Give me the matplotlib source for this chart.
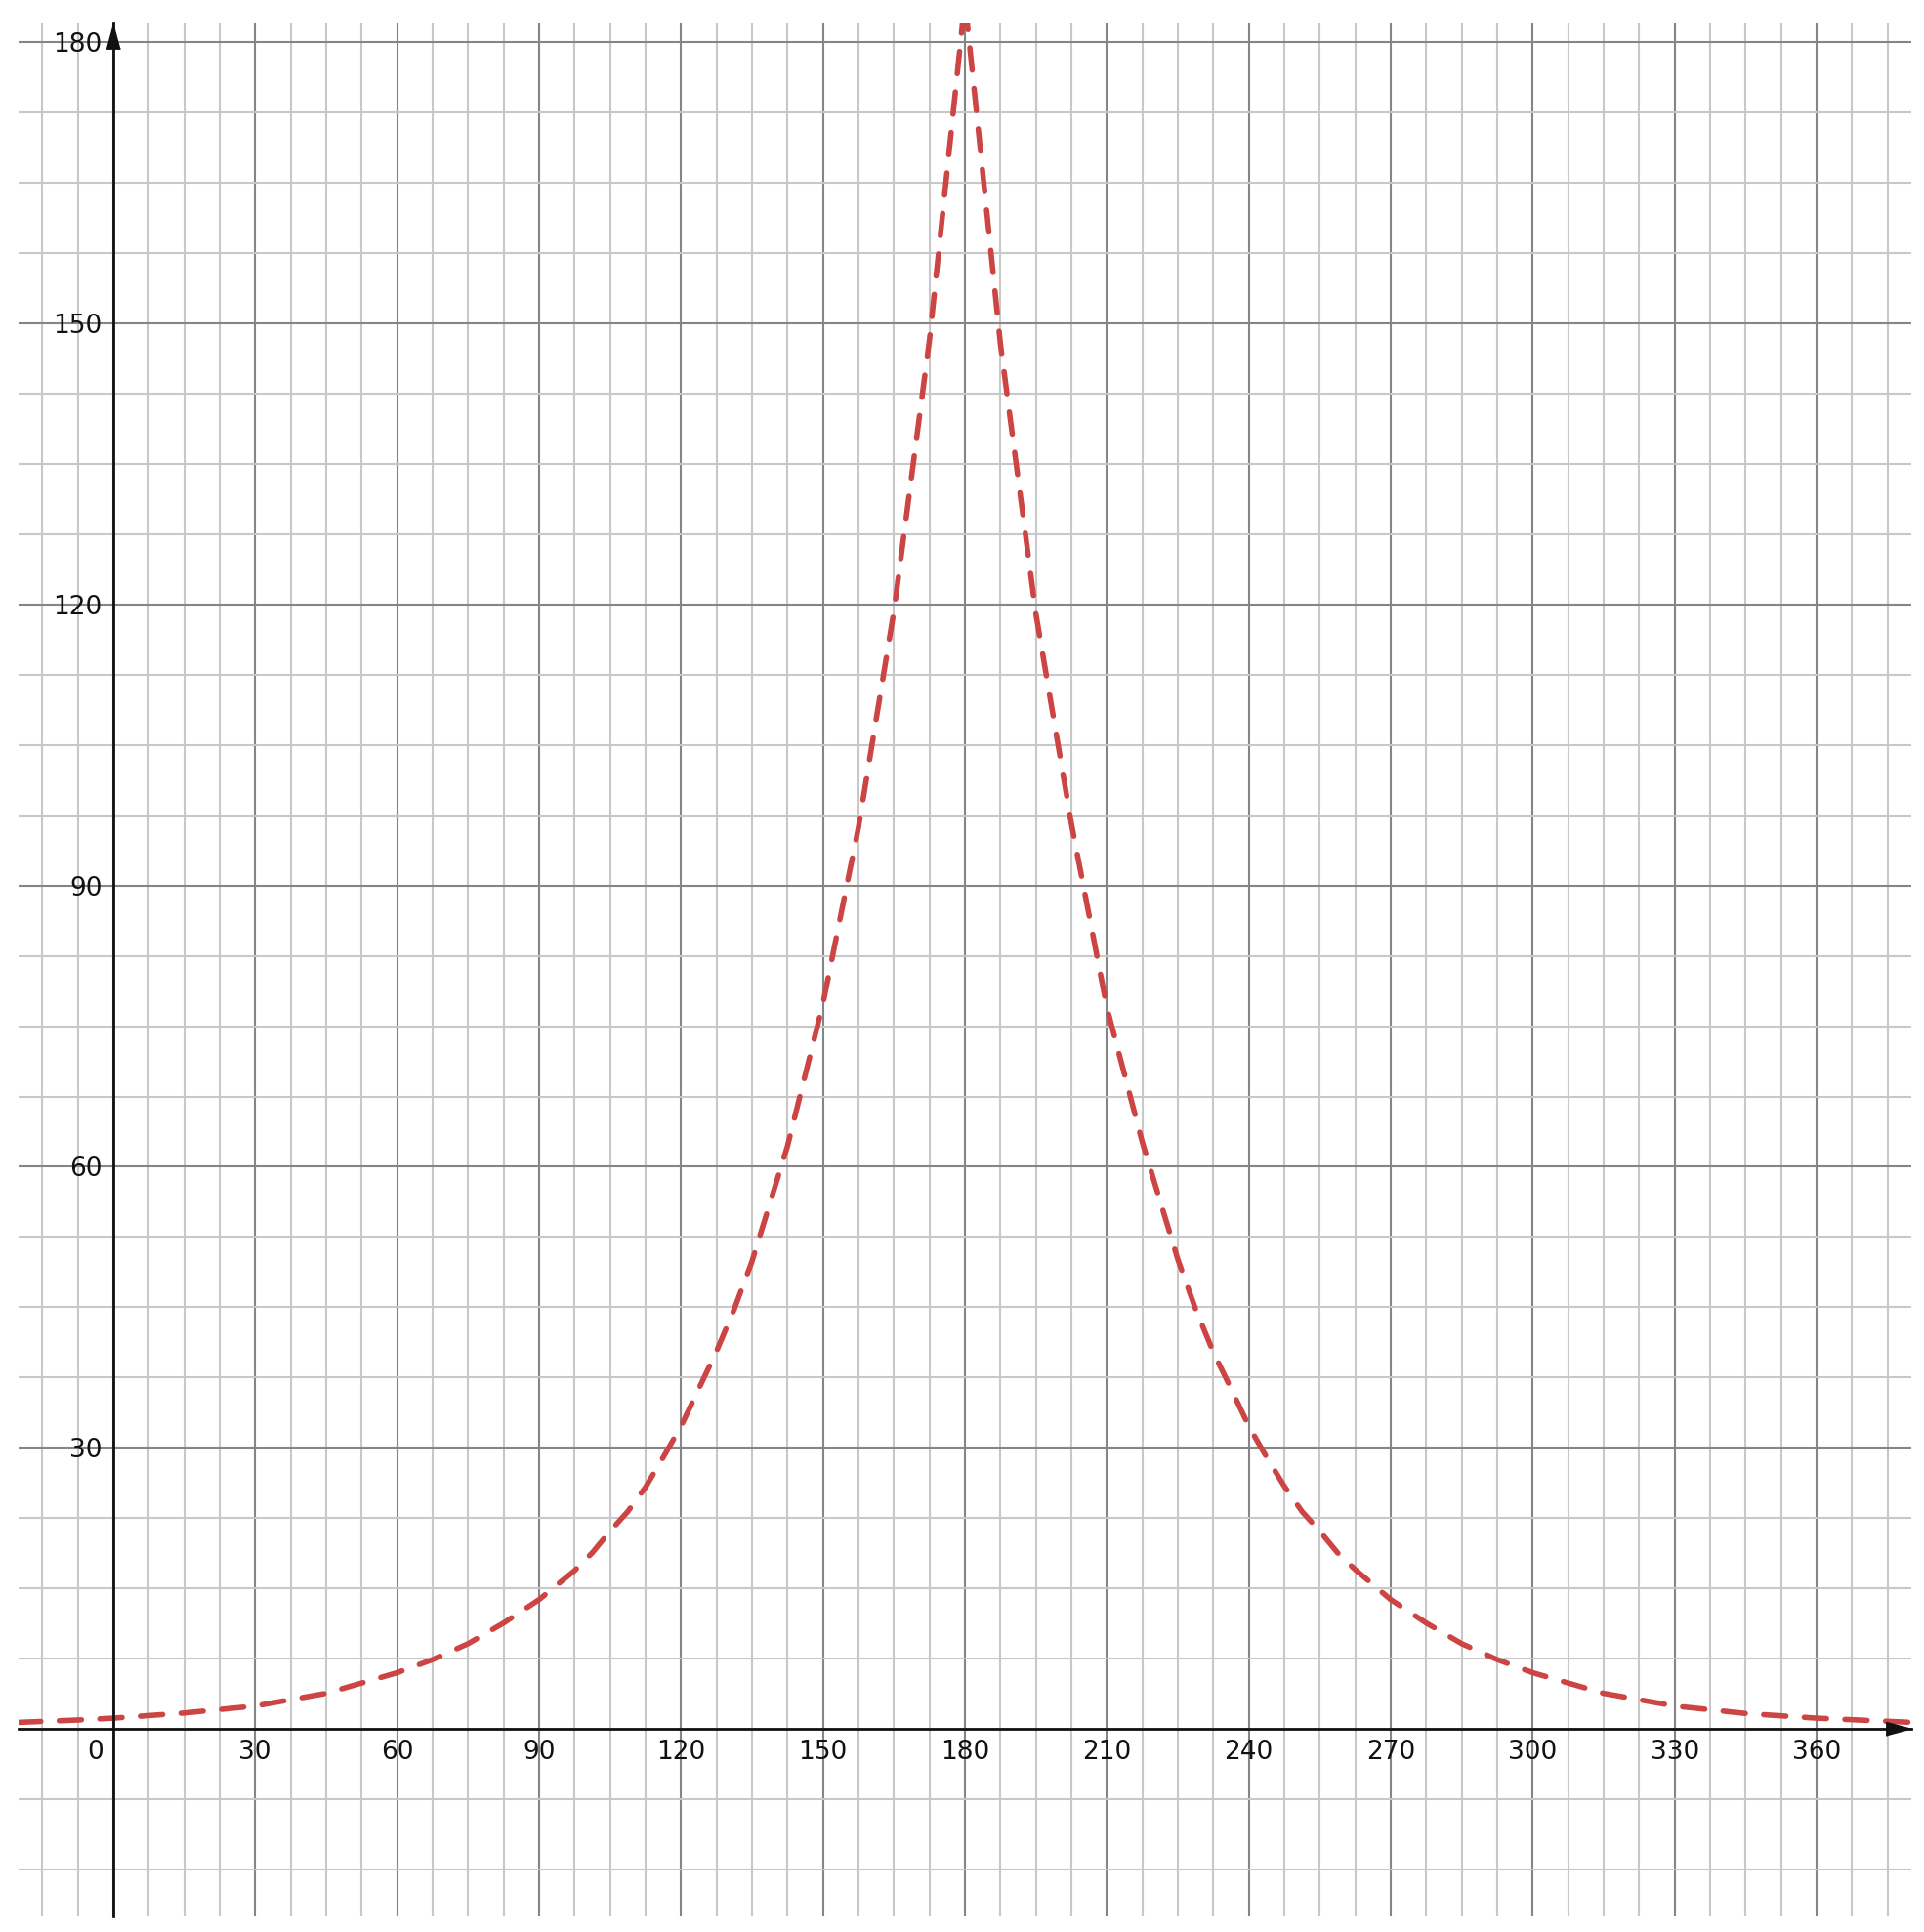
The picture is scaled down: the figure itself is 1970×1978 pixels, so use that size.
import numpy as np
import matplotlib.pyplot as plt
import matplotlib.transforms as mtransforms
from matplotlib.ticker import MultipleLocator

# values (angle in degrees)
angle = [-20, -7.5, 0, 15, 30, 45, 60, 67.5, 75, 82.5, 90, 97.5, 101.25, 105,
         108.75, 112.5, 116.25, 120, 123.75, 127.5, 131.25, 135, 142.5, 150,
         157.5, 165, 172.5, 180,
         187.5, 195, 202.5, 210, 217.5, 225, 228.75, 232.5, 236.25, 240,
         243.75, 247.5, 251.25, 255, 258.75, 262.5, 270, 277.5, 285, 292.5,
         300, 315, 330, 345, 360, 380]
value = [0.7, 0.95, 1.15, 1.7, 2.45, 3.8, 6.0, 7.4, 9.1, 11.3, 13.8, 16.9, 18.8, 21.1,
         23.2, 25.8, 29.0, 32.3, 36.3, 40.3, 44.8, 49.9, 62.2, 77.4,
         96.2, 119.3, 148.2, 184.5,
         147.8, 119.0, 96.6, 77.0, 62.6, 50.1, 44.8, 40.2, 36.3, 32.3,
         29.0, 25.9, 23.2, 21.1, 18.8, 17.0, 13.8, 11.3, 9.1, 7.4,
         6.0, 3.8, 2.45, 1.65, 1.15, 0.7]

x_ticks = [0, 30, 60, 90, 120, 150, 180, 210, 240, 270, 300, 330, 360]
y_ticks = [30, 60, 90, 120, 150, 180]

fig = plt.figure(figsize=(19.7, 19.78), dpi=100)
ax = fig.add_axes([19 / 1970, 16 / 1978, 1938 / 1970, 1938 / 1978])
ax.set_xlim(-20, 380)
ax.set_ylim(-20, 182)

# axes through the origin
for side in ['top', 'right']:
    ax.spines[side].set_visible(False)
ax.spines['left'].set_position(('data', 0))
ax.spines['bottom'].set_position(('data', 0))
for side in ['left', 'bottom']:
    ax.spines[side].set_linewidth(2.0)
    ax.spines[side].set_color('#111111')
    ax.spines[side].set_zorder(4)

ax.set_xticks(x_ticks)
ax.set_xticklabels([str(t) for t in x_ticks])
ax.set_yticks(y_ticks)
ax.set_yticklabels([str(t) for t in y_ticks])
ax.xaxis.set_minor_locator(MultipleLocator(7.5))
ax.yaxis.set_minor_locator(MultipleLocator(7.5))
ax.tick_params(which='both', length=0, labelsize=19, pad=8, labelcolor='#111111')

ax.set_axisbelow(True)
ax.grid(which='major', color='#858585', linewidth=1.5)
ax.grid(which='minor', color='#c8c8c8', linewidth=1.5)

# move the "0" label off the vertical axis
zero_label = ax.get_xticklabels()[0]
zero_label.set_transform(zero_label.get_transform() +
                         mtransforms.ScaledTranslation(-0.18, 0, fig.dpi_scale_trans))

# arrow heads
ax.plot(1, 0, marker=[(0, 0), (-1, 0.27), (-1, -0.27)], ms=37, color='#111111',
        transform=ax.get_yaxis_transform(), clip_on=False, zorder=5)
ax.plot(0, 1, marker=[(0, 0), (-0.27, -1), (0.27, -1)], ms=37, color='#111111',
        transform=ax.get_xaxis_transform(), clip_on=False, zorder=5)

ax.plot(angle, value, color='#cc4444', linewidth=4.0, dashes=(4.1, 3.4),
        dash_capstyle='round', zorder=3)

plt.savefig('out.png', dpi=100)
